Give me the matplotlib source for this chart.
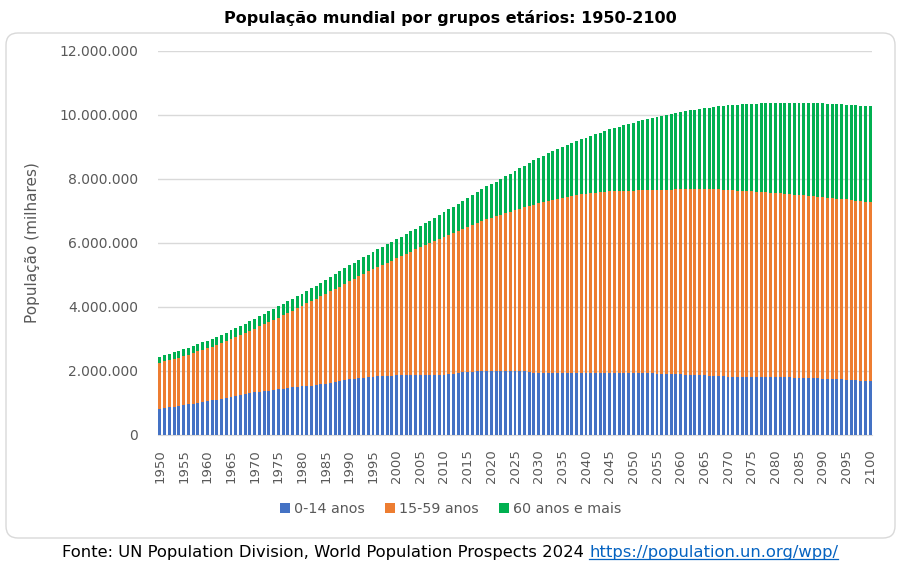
import matplotlib
matplotlib.use('Agg')
import matplotlib.pyplot as plt
import matplotlib.patches as patches
import matplotlib.transforms as mtransforms
from matplotlib.ticker import FuncFormatter
import numpy as np

# Years 1950-2100
years = list(range(1950, 2101))

# Population by age group, in billions (axis shows thousands)
kids = [  # 0-14 anos
    0.82, 0.85, 0.87, 0.89, 0.91, 0.93, 0.96, 0.98, 1.01, 1.03,
    1.06, 1.08, 1.10, 1.13, 1.16, 1.19, 1.22, 1.25, 1.27, 1.30,
    1.33, 1.35, 1.37, 1.39, 1.41, 1.43, 1.45, 1.47, 1.49, 1.51,
    1.52, 1.53, 1.54, 1.56, 1.58, 1.60, 1.63, 1.66, 1.69, 1.72,
    1.74, 1.76, 1.78, 1.79, 1.81, 1.82, 1.83, 1.84, 1.85, 1.85,
    1.86, 1.86, 1.86, 1.86, 1.86, 1.86, 1.86, 1.87, 1.87, 1.88,
    1.89, 1.90, 1.92, 1.94, 1.96, 1.97, 1.98, 1.99, 2.00, 2.00,
    2.00, 2.01, 2.01, 2.01, 2.00, 2.00, 2.00, 1.99, 1.97, 1.95,
    1.93, 1.93, 1.93, 1.93, 1.93, 1.93, 1.94, 1.94, 1.94, 1.94,
    1.94, 1.94, 1.94, 1.94, 1.94, 1.94, 1.94, 1.94, 1.94, 1.94,
    1.94, 1.93, 1.93, 1.93, 1.93, 1.92, 1.92, 1.91, 1.91, 1.90,
    1.90, 1.89, 1.88, 1.88, 1.87, 1.86, 1.85, 1.84, 1.83, 1.83,
    1.82, 1.82, 1.82, 1.82, 1.82, 1.82, 1.82, 1.82, 1.82, 1.82,
    1.81, 1.81, 1.80, 1.80, 1.79, 1.79, 1.78, 1.78, 1.77, 1.77,
    1.76, 1.76, 1.75, 1.75, 1.74, 1.73, 1.72, 1.71, 1.70, 1.69,
    1.68,
]
adults = [  # 15-59 anos
    1.44, 1.45, 1.47, 1.49, 1.51, 1.54, 1.55, 1.59, 1.60, 1.63,
    1.65, 1.67, 1.71, 1.74, 1.78, 1.81, 1.84, 1.88, 1.92, 1.95,
    1.99, 2.05, 2.09, 2.14, 2.19, 2.24, 2.30, 2.35, 2.40, 2.45,
    2.52, 2.58, 2.64, 2.70, 2.75, 2.81, 2.86, 2.91, 2.95, 3.01,
    3.07, 3.13, 3.18, 3.25, 3.30, 3.36, 3.42, 3.48, 3.54, 3.60,
    3.66, 3.73, 3.80, 3.86, 3.94, 4.00, 4.07, 4.13, 4.19, 4.25,
    4.31, 4.36, 4.40, 4.44, 4.48, 4.53, 4.58, 4.63, 4.68, 4.74,
    4.79, 4.82, 4.87, 4.92, 4.98, 5.02, 5.07, 5.12, 5.19, 5.25,
    5.31, 5.34, 5.37, 5.41, 5.44, 5.48, 5.50, 5.53, 5.56, 5.58,
    5.59, 5.62, 5.63, 5.65, 5.66, 5.68, 5.68, 5.70, 5.70, 5.70,
    5.70, 5.72, 5.73, 5.73, 5.74, 5.75, 5.75, 5.76, 5.76, 5.79,
    5.79, 5.80, 5.82, 5.81, 5.82, 5.83, 5.84, 5.84, 5.85, 5.83,
    5.84, 5.83, 5.82, 5.81, 5.80, 5.80, 5.78, 5.77, 5.76, 5.75,
    5.75, 5.74, 5.73, 5.72, 5.72, 5.71, 5.71, 5.70, 5.69, 5.68,
    5.68, 5.66, 5.65, 5.64, 5.63, 5.63, 5.62, 5.61, 5.60, 5.60,
    5.59,
]
seniors = [  # 60 anos e mais
    0.19, 0.19, 0.20, 0.20, 0.21, 0.21, 0.22, 0.22, 0.23, 0.24,
    0.24, 0.25, 0.25, 0.26, 0.26, 0.27, 0.28, 0.28, 0.29, 0.30,
    0.31, 0.31, 0.32, 0.33, 0.34, 0.35, 0.35, 0.36, 0.37, 0.38,
    0.38, 0.39, 0.40, 0.41, 0.42, 0.43, 0.44, 0.45, 0.47, 0.48,
    0.49, 0.50, 0.51, 0.52, 0.53, 0.54, 0.55, 0.56, 0.57, 0.59,
    0.60, 0.61, 0.62, 0.64, 0.65, 0.67, 0.68, 0.70, 0.72, 0.74,
    0.76, 0.79, 0.82, 0.85, 0.88, 0.91, 0.94, 0.97, 1.00, 1.03,
    1.06, 1.09, 1.12, 1.15, 1.18, 1.22, 1.26, 1.30, 1.34, 1.38,
    1.42, 1.46, 1.50, 1.53, 1.57, 1.60, 1.63, 1.66, 1.69, 1.72,
    1.76, 1.79, 1.83, 1.86, 1.90, 1.93, 1.97, 2.00, 2.04, 2.08,
    2.12, 2.15, 2.18, 2.21, 2.24, 2.27, 2.30, 2.33, 2.36, 2.38,
    2.41, 2.43, 2.45, 2.48, 2.50, 2.52, 2.54, 2.57, 2.59, 2.62,
    2.64, 2.66, 2.68, 2.70, 2.72, 2.73, 2.75, 2.77, 2.78, 2.80,
    2.81, 2.82, 2.84, 2.85, 2.86, 2.87, 2.88, 2.89, 2.90, 2.91,
    2.92, 2.93, 2.94, 2.95, 2.96, 2.96, 2.97, 2.98, 2.99, 2.99,
    3.00,
]

labels = ['0-14 anos', '15-59 anos', '60 anos e mais']
colors = ['#4472C4', '#ED7D31', '#00B050']
gray = '#595959'

# thousands
k = np.array(kids) * 1e6
a = np.array(adults) * 1e6
s = np.array(seniors) * 1e6
x = np.arange(len(years))

fig = plt.figure(figsize=(9.01, 5.67), dpi=100)

# chart area box with rounded corners (pixel coords)
box = patches.FancyBboxPatch((6, 567 - 538), 889, 505,
                             boxstyle='round,pad=0,rounding_size=12',
                             transform=mtransforms.IdentityTransform(),
                             facecolor='white', edgecolor='#D9D9D9', lw=1,
                             zorder=-10)
fig.patches.append(box)

ax = fig.add_axes([157.6 / 901, 1 - 435 / 567, 714.8 / 901, 384 / 567])
ax.set_facecolor('none')
ax.bar(x, k, width=0.62, color=colors[0], label=labels[0], zorder=3)
ax.bar(x, a, width=0.62, bottom=k, color=colors[1], label=labels[1], zorder=3)
ax.bar(x, s, width=0.62, bottom=k + a, color=colors[2], label=labels[2], zorder=3)

ax.set_xlim(-0.5, len(years) - 0.5)
ax.set_ylim(0, 12e6)
ax.set_yticks(np.arange(0, 12e6 + 1, 2e6))
ax.yaxis.set_major_formatter(FuncFormatter(lambda v, p: f'{int(v):,}'.replace(',', '.')))
ax.grid(axis='y', color='#D9D9D9', lw=1, zorder=0)
for sp in ['top', 'right', 'left']:
    ax.spines[sp].set_visible(False)
ax.spines['bottom'].set_color('#D9D9D9')
ax.tick_params(axis='both', length=0, colors=gray)
ax.tick_params(axis='y', labelsize=10, pad=14)
ticks = x[::5]
ax.set_xticks(ticks)
ax.set_xticklabels([str(years[i]) for i in ticks], rotation=90, fontsize=9.5)
ax.tick_params(axis='x', pad=10)
ax.set_ylabel('População (milhares)', fontsize=11, color=gray, labelpad=14)

fig.text(0.5, 1 - 18 / 567, 'População mundial por grupos etários: 1950-2100',
         ha='center', va='center', fontsize=11.5, fontweight='bold')

handles, lbls = ax.get_legend_handles_labels()
fig.legend(handles, lbls, loc='center', bbox_to_anchor=(0.5, 1 - 509 / 567),
           ncol=3, frameon=False, fontsize=10.3, labelcolor=gray,
           handlelength=0.7, handleheight=0.7, handletextpad=0.3, columnspacing=1.4)

# source line, URL in blue and underlined
t1 = fig.text(62 / 901, 1 - 553 / 567,
              'Fonte: UN Population Division, World Population Prospects 2024 ',
              ha='left', va='center', fontsize=11.8)
fig.canvas.draw()
bb = t1.get_window_extent()
inv = fig.transFigure.inverted()
x1 = inv.transform((bb.x1, bb.y0))[0]
t2 = fig.text(x1, 1 - 553 / 567, 'https://population.un.org/wpp/',
              ha='left', va='center', fontsize=11.8, color='#0563C1')
fig.canvas.draw()
bb2 = t2.get_window_extent()
(ux0, uy), (ux1, _) = inv.transform([(bb2.x0, bb2.y0 + 2), (bb2.x1, bb2.y0 + 2)])
fig.add_artist(plt.Line2D([ux0, ux1], [uy, uy], color='#0563C1', lw=0.9,
                          transform=fig.transFigure))

fig.savefig('out.png', dpi=100)
